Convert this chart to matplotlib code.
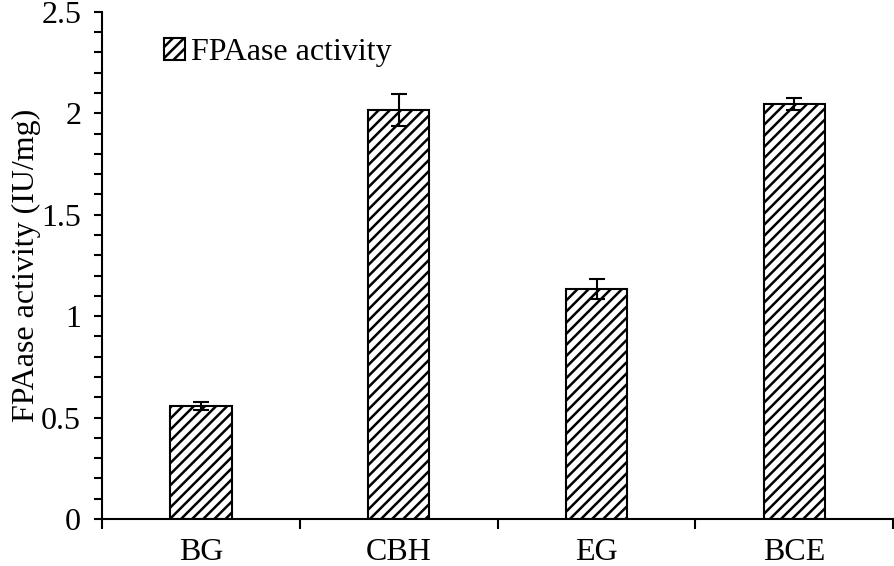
import matplotlib
matplotlib.use("Agg")
import matplotlib.pyplot as plt
import numpy as np

categories = ["BG", "CBH", "EG", "BCE"]
values = [0.557, 2.015, 1.134, 2.046]
errors = [0.02, 0.08, 0.05, 0.03]
series_name = "FPAase activity"
y_label = "FPAase activity (IU/mg)"

plt.rcParams['font.family'] = ['Liberation Serif', 'DejaVu Serif']
plt.rcParams['hatch.linewidth'] = 1.8
plt.rcParams['font.size'] = 23

fig = plt.figure(figsize=(8.95, 5.66), dpi=100)
ax = fig.add_axes([0.114, 0.083, 0.884, 0.896])

x = np.arange(len(categories))
ax.bar(x, values, width=0.31, color='white', edgecolor='black', linewidth=1.5,
       hatch='///', label=series_name, zorder=2)
ax.errorbar(x, values, yerr=errors, fmt='none', ecolor='black', elinewidth=1.5,
            capsize=6, capthick=1.5, zorder=3)

ax.set_xlim(-0.5, len(categories) - 0.5)
ax.set_ylim(0, 2.5)
ax.set_yticks([0, 0.5, 1, 1.5, 2, 2.5])
ax.set_yticklabels(["0", "0.5", "1", "1.5", "2", "2.5"])
ax.set_yticks(np.arange(0, 2.51, 0.1), minor=True)
ax.set_xticks(x)
ax.set_xticklabels(categories)
ax.set_xticks(np.arange(-0.5, len(categories), 1.0), minor=True)

ax.tick_params(axis='y', which='both', direction='out', length=6, width=1.5, labelsize=23, pad=9)
ax.tick_params(axis='x', which='major', length=0, labelsize=23, pad=14)
ax.tick_params(axis='x', which='minor', direction='out', length=7, width=1.5)

for s in ['top', 'right']:
    ax.spines[s].set_visible(False)
for s in ['left', 'bottom']:
    ax.spines[s].set_linewidth(1.5)

ax.set_ylabel(y_label, fontsize=23, labelpad=0)

leg = ax.legend(loc='upper left', bbox_to_anchor=(0.042, 1.005), frameon=False,
                handlelength=0.65, handleheight=0.65, handletextpad=0.2, fontsize=23)

fig.savefig("out.png", dpi=100)
